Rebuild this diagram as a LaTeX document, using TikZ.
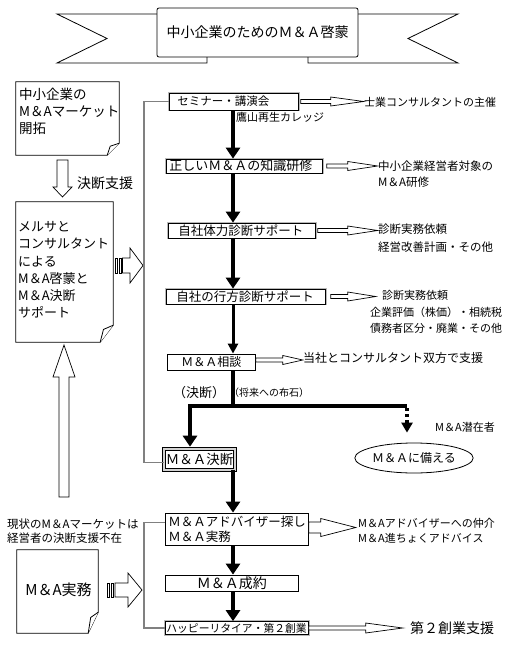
\documentclass[tikz,border=0pt]{standalone}
\usepackage{fontspec}
\setmainfont{Noto Sans CJK JP}
\usetikzlibrary{arrows.meta,shapes.geometric,calc}
\newcommand\fs[2]{\fontsize{#1}{#2}\selectfont}
\newcommand\harrow[5]{\draw[hollowarr,shift={(#1)}] (0,-#3) -- ({#2-#5},-#3) -- ({#2-#5},-#4) -- (#2,0) -- ({#2-#5},#4) -- ({#2-#5},#3) -- (0,#3) -- cycle;}
\newcommand\varrow[5]{\draw[hollowarr,shift={(#1)}] (-#3,0) -- (-#3,{#2-#5}) -- (-#4,{#2-#5}) -- (0,#2) -- (#4,{#2-#5}) -- (#3,{#2-#5}) -- (#3,0) -- cycle;}
\newcommand\docshape[3]{%
  \draw[docpath] (#1.north west) -- (#1.north east) -- ($(#1.south east)+(0,-#3)$) -- ($(#1.south east)+(-#2,0)$) -- (#1.south west) -- cycle;
  \draw[docpath] ($(#1.south east)+(-#2,0)$) -- ($(#1.south east)+({-#2*0.75},{-#3*0.75})$) -- ($(#1.south east)+(0,-#3)$);}
\tikzset{
  hollowarr/.style={draw=black, fill=white, line width=0.7pt},
  bevbox/.style={draw=black, line width=0.7pt, fill=white, preaction={draw=gray!55, line width=2.6pt}, inner ysep=0pt, anchor=west, align=left},
  plainbox/.style={draw=black, line width=0.8pt, fill=white, inner ysep=0pt, anchor=west, align=left},
  lbl/.style={inner sep=0pt, anchor=west, align=left},
  fat/.style={line width=4.5pt, -{Triangle[width=14pt,length=11pt]}},
  thinar/.style={line width=3pt, -{Triangle[width=10pt,length=10pt]}},
  brk/.style={draw=gray, line width=1.2pt},
  docpath/.style={draw=black, line width=0.8pt, fill=white},
}
\begin{document}
\begin{tikzpicture}[x=1pt,y=-1pt,line join=miter]
\fill[white] (0,0) rectangle (510,650);
\useasboundingbox (0,0) rectangle (510,650);

% ---- title ribbon
\draw[line width=0.8pt, fill=white] (157,14) -- (57,14) -- (107,38.5) -- (57,63) -- (207,63) -- (207,55) -- (157,55);
\draw[line width=0.8pt, fill=white] (358,14) -- (458,14) -- (408,38.5) -- (458,63) -- (308,63) -- (308,55) -- (358,55);
\node[draw, fill=white, minimum width=201pt, minimum height=49pt, rounded corners=2pt, line width=0.8pt, font=\fs{14}{16}] (title) at (257.5,32.5) {中小企業のためのＭ＆Ａ啓蒙};

% ---- left column
\node[minimum width=103pt, minimum height=73pt, inner sep=0pt] (d1) at (67.5,118.5) {};
\docshape{d1}{12}{12}
\node[lbl, font=\fs{13.5}{17}] (d1t) at (19,111) {中小企業の\\M＆Aマーケット\\開拓};

\node[minimum width=97pt, minimum height=140pt, inner sep=0pt] (d2) at (64.5,272) {};
\docshape{d2}{13}{17}
\node[lbl, font=\fs{13}{17.2}] (d2t) at (18,270) {メルサと\\コンサルタント\\による\\M＆A啓蒙と\\M＆A決断\\サポート};

\node[minimum width=81pt, minimum height=83pt, inner sep=0pt] (d3) at (57.5,591.5) {};
\docshape{d3}{10}{21}
\node[inner sep=0pt, font=\fs{15}{18}] (d3t) at (58.5,590) {M＆A実務};

\varrow{62.5,160}{37}{5.5}{9.5}{10}
\node[lbl, font=\fs{14}{16}] (kd) at (77,183) {決断支援};

\varrow{64,497}{-152}{5}{11}{-32}

\node[lbl, font=\fs{11.5}{14}] (gen) at (7,531) {現状のM＆Aマーケットは\\経営者の決断支援不在};

% striped arrows
\draw[hollowarr] (115,258) rectangle (117.5,273);
\draw[hollowarr] (119,258) rectangle (121.5,273);
\draw[hollowarr] (122.5,258) -- (130,258) -- (130,248) -- (143,265.5) -- (130,283) -- (130,273) -- (122.5,273) -- cycle;
\draw[hollowarr] (107,583) rectangle (109.5,597);
\draw[hollowarr] (111,583) rectangle (113.5,597);
\draw[hollowarr] (115,583) -- (128,583) -- (128,573) -- (142,590) -- (128,607) -- (128,597) -- (115,597) -- cycle;

% ---- centre column
\coordinate (colx) at (233,0);
\coordinate (brx) at (144,0);
\coordinate (jn) at (233,406);
\coordinate (lb) at (190,406);
\coordinate (rb) at (407,406);

\node[bevbox, font=\fs{11.5}{14}, text width=113pt, inner xsep=8pt, minimum height=17pt] (bA) at (169,101.5) {セミナー・講演会};
\node[bevbox, font=\fs{13}{15}, text width=150pt, inner xsep=3pt, minimum height=14pt] (bB) at (166,166) {正しいＭ＆Ａの知識研修};
\node[bevbox, font=\fs{12.5}{15}, text width=127pt, inner xsep=10pt, minimum height=15pt] (bC) at (168,230.5) {自社体力診断サポート};
\node[bevbox, font=\fs{12.5}{15}, text width=139pt, inner xsep=10pt, minimum height=15pt] (bD) at (166,296.5) {自社の行方診断サポート};
\node[plainbox, font=\fs{12}{14}, text width=60pt, inner xsep=14pt, minimum height=16pt, align=center] (bE) at (167,362) {Ｍ＆Ａ相談};
\node[draw=black, line width=0.6pt, double=gray!35, double distance=2.4pt, fill=white, minimum width=71pt, minimum height=21pt, inner sep=0pt, font=\fs{13.5}{15}] (bF) at (199.5,459.5) {Ｍ＆Ａ決断};
\node[plainbox, font=\fs{12.5}{15}, text width=137pt, inner xsep=3pt, minimum height=32pt] (bG) at (165,529) {Ｍ＆Ａアドバイザー探し\\Ｍ＆Ａ実務};
\node[plainbox, font=\fs{14}{16}, text width=127pt, inner xsep=3pt, minimum height=16pt, align=center] (bH) at (165,583) {Ｍ＆Ａ成約};
\node[bevbox, font=\fs{10.8}{13}, text width=141pt, inner xsep=1pt, minimum height=13pt] (bI) at (165,628) {ハッピーリタイア・第２創業};

\node[ellipse, draw, line width=0.8pt, fill=white, minimum width=112pt, minimum height=30pt, inner sep=0pt, font=\fs{12}{14}] (el) at (414,458) {Ｍ＆Ａに備える};
\node[lbl, font=\fs{11}{13}] (sz) at (435,427) {M＆A潜在者};

% brackets
\draw[brk] (bA.west) -- (bA.west -| brx) -- ($(bF.west -| brx)+(0,3)$) -- ($(bF.west)+(0,3)$);
\draw[brk] ($(bG.north west)+(0,10)$) -- ($(bG.north west -| brx)+(0,10)$) -- (bI.west -| brx) -- (bI.west);

% vertical flow
\draw[fat] (bA.south -| colx) -- (bB.north -| colx);
\draw[fat] (bB.south -| colx) -- (bC.north -| colx);
\draw[fat] (bC.south -| colx) -- (bD.north -| colx);
\draw[thinar] (bD.south -| colx) -- (bE.north -| colx);
\draw[line width=4.5pt] (bE.south -| colx) -- (jn);
\draw[fat, shorten >=2pt] (rb) -- (lb) -- (bF.north -| lb);
\draw[line width=4.5pt, dash pattern=on 3pt off 3pt, -{Triangle[width=11pt,length=10pt]}, shorten >=10pt] ($(rb)+(0,2.25)$) -- (el.north -| rb);
\draw[fat] (bF.south -| colx) -- (bG.north -| colx);
\draw[fat] (bG.south -| colx) -- (bH.north -| colx);
\draw[fat] (bH.south -| colx) -- (bI.north -| colx);

\node[lbl, font=\fs{11}{13}] (yz) at (236,117) {鷹山再生カレッジ};
\node[lbl, font=\fs{13}{15}] (kt) at (173,393) {（決断）};
\node[lbl, font=\fs{10}{12}] (sh) at (229,393) {（将来への布石）};

% ---- right side arrows and texts
\harrow{$(bA.east)+(2,0)$}{63}{2}{4.5}{33}
\harrow{$(bB.east)+(4,0)$}{51}{2}{4.5}{30}
\harrow{$(bC.east)+(2,0)$}{60}{2}{4.5}{30}
\harrow{$(bD.east)+(5,0)$}{45}{2}{4.5}{28}
\harrow{$(bE.east)+(0,-2)$}{47}{2}{4.5}{20}
\harrow{$(bG.east)+(0,-1.5)$}{47}{5.5}{9}{35}
\harrow{bI.east}{94}{2}{5}{37}

\node[lbl, font=\fs{11}{13}] (rA) at (364,102) {士業コンサルタントの主催};
\node[lbl, font=\fs{11.5}{16}] (rB) at (378,174) {中小企業経営者対象の\\M＆A研修};
\node[lbl, font=\fs{11.5}{18}] (rC) at (378,238) {診断実務依頼\\経営改善計画・その他};
\node[lbl, font=\fs{11}{13}] (rD1) at (382,295) {診断実務依頼};
\node[lbl, font=\fs{11}{16}] (rD2) at (370,320) {企業評価（株価）・相続税\\債務者区分・廃業・その他};
\node[lbl, font=\fs{12}{14}] (rE) at (303,358) {当社とコンサルタント双方で支援};
\node[lbl, font=\fs{11}{15}] (rG) at (358,530.5) {M＆Aアドバイザーへの仲介\\M＆A進ちょくアドバイス};
\node[lbl, font=\fs{14}{16}] (rI) at (410,628) {第２創業支援};
\end{tikzpicture}
\end{document}
